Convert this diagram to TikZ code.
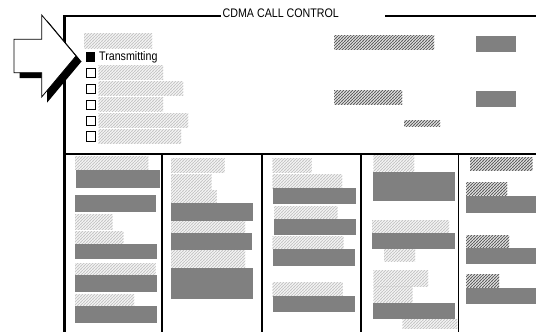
\documentclass[tikz,border=0pt]{standalone}
\usepackage{fontspec}
\newfontfamily\cndfont[FakeStretch=0.86]{Liberation Sans}
\usetikzlibrary{patterns.meta}
\tikzdeclarepattern{
  name=diaghatch,
  type=uncolored,
  bounding box={(-1pt,-1pt) and (4pt,4pt)},
  tile size={(3pt,3pt)},
  code={\draw[line width=0.9pt] (-1pt,-1pt) -- (4pt,4pt);}
}
\definecolor{boxgrey}{HTML}{808080}
\tikzset{
  hatchL/.style={pattern=diaghatch, pattern color=black!22},
  hatchD/.style={pattern=diaghatch, pattern color=black!62},
  greyfill/.style={fill=boxgrey},
  frameline/.style={line width=2.7pt},
  divline/.style={line width=1.6pt},
  chk/.style={draw=black, line width=0.9pt, fill=white},
  lbl/.style={font=\cndfont\fontsize{12.4}{13}\selectfont, inner sep=0pt, anchor=base west}
}
\begin{document}
\begin{tikzpicture}[x=1pt,y=-1pt]
\useasboundingbox (0,0) rectangle (536,332);
\fill[white] (0,0) rectangle (536,332);

% frame
\draw[frameline, line join=miter] (64.7,332) -- (64.7,16) -- (221,16);
\draw[frameline] (385,16) -- (536,16);
\node[lbl] (title) at (222.5,17.8) {CDMA CALL CONTROL};
\draw[line width=1.8pt] (64.7,153.7) -- (536,153.7);
\foreach \xx in {162,261.7,360.7,458.3} \draw[divline] (\xx,153.7) -- (\xx,332);

% arrow with shadow
\fill[black, shift={(5.5,5.5)}] (14,39.3) -- (41.7,39.3) -- (41.7,15) -- (76,56) -- (41.7,97) -- (41.7,72.7) -- (14,72.7) -- cycle;
\filldraw[fill=white, draw=black, line width=0.8pt, line join=miter] (14,39.3) -- (41.7,39.3) -- (41.7,15) -- (76,56) -- (41.7,97) -- (41.7,72.7) -- (14,72.7) -- cycle;

% check list
\fill[hatchL] (84,33) rectangle (152,48);
\fill[black] (85.5,52) rectangle (95.3,61.5);
\node[lbl] (tx) at (99,60.8) {Transmitting};
\foreach \yy/\xr in {68/163,84/183,100/163,116/188,131.5/181} {
  \fill[hatchL] (98.7,\yy-2.5) rectangle (\xr,\yy+11.5);
  \draw[chk] (86,\yy) rectangle (95.5,\yy+9.5);
}

% top right
\fill[hatchD] (334,35) rectangle (434,49);
\fill[greyfill] (476,36) rectangle (516,51.7);
\fill[hatchD] (334,90.7) rectangle (402,104);
\fill[greyfill] (476,91) rectangle (516,106.7);
\fill[hatchD] (404,120.7) rectangle (440,126.7);

% column 1
\fill[hatchL] (75,156) rectangle (148.3,169.3);
\fill[greyfill] (76,170) rectangle (160,187.7);
\fill[greyfill] (75,195) rectangle (156,211.7);
\fill[hatchL] (75,214) rectangle (112.7,229.3);
\fill[hatchL] (75,231) rectangle (123.3,244);
\fill[greyfill] (75,244) rectangle (156.7,259.3);
\fill[hatchL] (75,263.3) rectangle (155.7,275);
\fill[greyfill] (75,275) rectangle (156.7,291.7);
\fill[hatchL] (75,294) rectangle (134,305.3);
\fill[greyfill] (75,306) rectangle (156.7,322.7);

% column 2
\fill[hatchL] (171,158.3) rectangle (224.7,172.7);
\fill[hatchL] (171,174) rectangle (211.7,189.3);
\fill[hatchL] (171,190) rectangle (216.7,202.7);
\fill[greyfill] (171,202.7) rectangle (252.7,220.7);
\fill[hatchL] (171,221.3) rectangle (245,233.3);
\fill[greyfill] (171,233.3) rectangle (252,250);
\fill[hatchL] (171,250.7) rectangle (245,267.3);
\fill[greyfill] (171,268) rectangle (252.7,298.7);

% column 3
\fill[hatchL] (272.7,158.3) rectangle (311.7,172.7);
\fill[hatchL] (272.7,174) rectangle (342,188.3);
\fill[greyfill] (272.7,188.3) rectangle (356,204);
\fill[hatchL] (274,206) rectangle (337.7,219);
\fill[greyfill] (274,219) rectangle (356,235);
\fill[hatchL] (272.7,236) rectangle (343.7,249);
\fill[greyfill] (272.7,249) rectangle (355,266);
\fill[hatchL] (272.7,282.3) rectangle (342.7,296);
\fill[greyfill] (272.7,296) rectangle (355,312);

% column 4
\fill[hatchL] (373.3,155) rectangle (414,171.7);
\fill[greyfill] (373.3,171.7) rectangle (455,201);
\fill[hatchL] (372,220) rectangle (449,233.3);
\fill[greyfill] (372,233.3) rectangle (455,249);
\fill[hatchL] (384,249) rectangle (415,261.7);
\fill[hatchL] (373.3,270.7) rectangle (428,286.7);
\fill[hatchL] (373.3,286.7) rectangle (412.7,303.3);
\fill[greyfill] (373.3,303.3) rectangle (455,319);
\fill[hatchL] (402.7,319) rectangle (457.3,328.3);

% column 5
\fill[hatchD] (470,157.3) rectangle (532.7,170.7);
\fill[hatchD] (466,182.7) rectangle (507,195.7);
\fill[greyfill] (466,195.7) rectangle (536,212.7);
\fill[hatchD] (466,235) rectangle (509,247.7);
\fill[greyfill] (466,247.7) rectangle (536,263.7);
\fill[hatchD] (466,274.3) rectangle (499,288.3);
\fill[greyfill] (466,288.3) rectangle (536,304);
\end{tikzpicture}
\end{document}
